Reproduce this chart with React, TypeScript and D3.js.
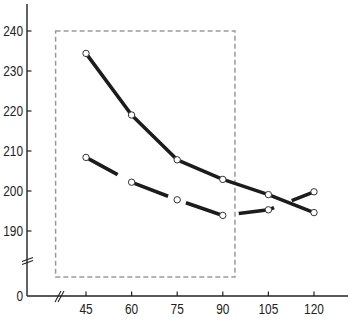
import React from "react";
import * as d3 from "d3";

const xCategories = [45, 60, 75, 90, 105, 120];
const seriesSolid = [234.4, 219, 207.8, 202.9, 199.1, 194.6];
const seriesDashed = [208.4, 202.2, 197.8, 193.9, 195.3, 199.8];
const yTicks = [190, 200, 210, 220, 230, 240];
const yZeroTick = 0;
const highlightX = [35, 94];
const highlightY = [178.5, 240];

const W = 350;
const H = 318;
const font = "'Liberation Sans', Arial, sans-serif";
const FS = 14.5;
const SX = 0.82;

function Label({ x, y, anchor, baseline, children }: any) {
  return (
    <text
      transform={`translate(${x},${y}) scale(${SX},1)`}
      textAnchor={anchor}
      dominantBaseline={baseline}
      fontFamily={font}
      fontSize={FS}
      fill="#222"
    >
      {children}
    </text>
  );
}

export default function App() {
  const x = d3.scaleLinear().domain([45, 120]).range([86, 314]);
  const y = d3.scaleLinear().domain([0, 175, 240]).range([296, 291, 31]);
  const axisX = 27;
  const axisY = y(0);

  const line = d3
    .line<number>()
    .x((_, i) => x(xCategories[i]))
    .y((d) => y(d));

  const rx0 = x(highlightX[0]);
  const rx1 = x(highlightX[1]);
  const ry0 = y(highlightY[1]);
  const ry1 = y(highlightY[0]);

  const yBreak = y(182.5);
  const xBreak = 59;

  return (
    <svg
      width={W}
      height={H}
      style={{ position: "absolute", left: 0, top: 0, background: "#fff" }}
    >
      <rect
        x={rx0}
        y={ry0}
        width={rx1 - rx0}
        height={ry1 - ry0}
        fill="none"
        stroke="#9a9a9a"
        strokeWidth={1.5}
        strokeDasharray="5 3"
      />
      {/* axes */}
      <line x1={axisX} y1={4} x2={axisX} y2={axisY} stroke="#222" strokeWidth={1.4} />
      <line x1={axisX} y1={axisY} x2={348} y2={axisY} stroke="#222" strokeWidth={1.4} />
      {yTicks.map((t) => (
        <g key={t}>
          <line x1={axisX} x2={axisX + 4.5} y1={y(t)} y2={y(t)} stroke="#222" strokeWidth={1.2} />
          <Label x={23} y={y(t)} anchor="end" baseline="central">
            {t}
          </Label>
        </g>
      ))}
      <Label x={23} y={y(yZeroTick)} anchor="end" baseline="central">
        {yZeroTick}
      </Label>
      {xCategories.map((t) => (
        <g key={t}>
          <line x1={x(t)} x2={x(t)} y1={axisY} y2={axisY - 4.5} stroke="#222" strokeWidth={1.2} />
          <Label x={x(t)} y={314} anchor="middle" baseline="auto">
            {t}
          </Label>
        </g>
      ))}
      {/* break marks */}
      <g stroke="#222" strokeWidth={1.1}>
        <line x1={axisX - 5} y1={yBreak + 0.5} x2={axisX + 6} y2={yBreak - 3.5} />
        <line x1={axisX - 5} y1={yBreak + 3.5} x2={axisX + 6} y2={yBreak - 0.5} />
        <line x1={xBreak - 4} y1={axisY + 6} x2={xBreak + 2} y2={axisY - 5} />
        <line x1={xBreak - 1} y1={axisY + 6} x2={xBreak + 5} y2={axisY - 5} />
      </g>
      {/* series */}
      <path
        d={line(seriesDashed) || ""}
        fill="none"
        stroke="#1c1c1c"
        strokeWidth={3.6}
        strokeDasharray="36 19"
      />
      <path
        d={line(seriesSolid) || ""}
        fill="none"
        stroke="#1c1c1c"
        strokeWidth={3.6}
        strokeLinejoin="round"
      />
      {[seriesSolid, seriesDashed].map((s, si) =>
        s.map((v, i) => (
          <circle
            key={`${si}-${i}`}
            cx={x(xCategories[i])}
            cy={y(v)}
            r={3.2}
            fill="#fff"
            stroke="#333"
            strokeWidth={1}
          />
        ))
      )}
    </svg>
  );
}
